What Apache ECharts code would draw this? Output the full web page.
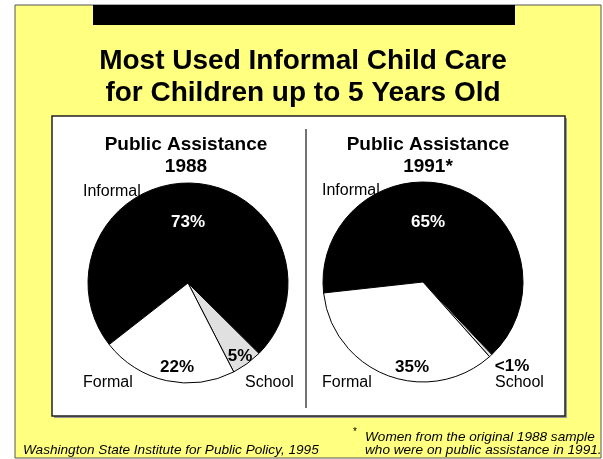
<!DOCTYPE html>
<html>
<head>
<meta charset="utf-8">
<style>
  html, body { margin: 0; padding: 0; background: #fff; }
  #chart { width: 603px; height: 459px; }
</style>
<script src="https://cdn.jsdelivr.net/npm/echarts@6/dist/echarts.min.js"></script>
</head>
<body>
<div id="chart"></div>
<script>
// data
const categories = ['Informal', 'School', 'Formal'];
const share1988 = [73, 5, 22];
const share1991 = [65, 0.5, 35];
const pctLabels1988 = ['73%', '5%', '22%'];
const pctLabels1991 = ['65%', '<1%', '35%'];
const sliceColors = ['#000000', '#e0e0e0', '#ffffff'];

const FONT = '"Liberation Sans", Arial, Helvetica, sans-serif';
const YELLOW = '#ffff80';

// where the labels sit on the slide (px)
const pctAnchors = {
  left: [[188, 222], [240, 356], [177, 367]],
  right: [[428, 222], [512, 366], [412, 367]]
};
const nameAnchors = {
  left: [[83, 192], [245, 383], [83, 383]],
  right: [[322, 191], [495, 383], [322, 383]]
};

function pieSeries(side, values, pcts, center, startAngle) {
  const base = {
    type: 'pie',
    center,
    radius: 100,
    startAngle,
    clockwise: true,
    silent: true,
    avoidLabelOverlap: false,
    emphasis: { disabled: true },
    labelLine: { show: false }
  };
  const slices = Object.assign({}, base, {
    z: 4,
    data: categories.map((c, i) => ({
      name: c,
      value: values[i],
      itemStyle: { color: sliceColors[i] },
      label: { color: i === 0 ? '#ffffff' : '#000000' }
    })),
    itemStyle: { borderColor: '#000', borderWidth: 1 },
    label: {
      show: true, position: 'inside', fontFamily: FONT, fontWeight: 'bold', fontSize: 17,
      formatter: p => pcts[p.dataIndex]
    },
    labelLayout: p => ({
      x: pctAnchors[side][p.dataIndex][0], y: pctAnchors[side][p.dataIndex][1],
      align: 'center', verticalAlign: 'middle'
    })
  });
  // invisible twin under the slices, carries the category names
  const names = Object.assign({}, base, {
    z: 3,
    data: categories.map((c, i) => ({ name: c, value: values[i] })),
    itemStyle: { color: 'rgba(0,0,0,0)', borderWidth: 0 },
    label: {
      show: true, position: 'inside', fontFamily: FONT, fontSize: 16, color: '#000',
      formatter: '{b}'
    },
    labelLayout: p => ({
      x: nameAnchors[side][p.dataIndex][0], y: nameAnchors[side][p.dataIndex][1],
      align: 'left', verticalAlign: 'middle'
    })
  });
  return [names, slices];
}

function txt(text, x, y, opts) {
  return {
    type: 'text', z: 1,
    style: Object.assign({
      text, x, y, fill: '#000', font: '15px ' + FONT,
      textAlign: 'left', textVerticalAlign: 'middle'
    }, opts || {})
  };
}

const chart = echarts.init(document.getElementById('chart'), null, { renderer: 'canvas' });

chart.setOption({
  animation: false,
  backgroundColor: '#ffffff',
  graphic: {
    elements: [
      { type: 'rect', z: 0, shape: { x: 15, y: 5, width: 586, height: 453 },
        style: { fill: YELLOW, stroke: '#555', lineWidth: 1 } },
      { type: 'rect', z: 0, shape: { x: 93, y: 5, width: 422, height: 20 }, style: { fill: '#000' } },
      { type: 'rect', z: 0, shape: { x: 54, y: 118, width: 513, height: 300 }, style: { fill: '#999' } },
      { type: 'rect', z: 0, shape: { x: 52, y: 116, width: 513, height: 300 },
        style: { fill: '#fff', stroke: '#222', lineWidth: 1.5 } },
      { type: 'line', z: 0, shape: { x1: 306, y1: 129, x2: 306, y2: 408 },
        style: { stroke: '#444', lineWidth: 1.5 } },
      txt('Most Used Informal Child Care\nfor Children up to 5 Years Old', 303, 77,
        { font: 'bold 28px ' + FONT, textAlign: 'center', lineHeight: 32 }),
      txt('Public Assistance\n1988', 186, 156,
        { font: 'bold 19px ' + FONT, textAlign: 'center', lineHeight: 22 }),
      txt('Public Assistance\n1991*', 428, 156,
        { font: 'bold 19px ' + FONT, textAlign: 'center', lineHeight: 22 }),
      txt('Washington State Institute for Public Policy, 1995', 23, 450,
        { font: 'italic 13.6px ' + FONT }),
      txt('*', 353, 432, { font: '10px ' + FONT }),
      txt('Women from the original 1988 sample', 365, 437, { font: 'italic 13.6px ' + FONT }),
      txt('who were on public assistance in 1991.', 365, 450, { font: 'italic 13.6px ' + FONT })
    ]
  },
  series: [
    ...pieSeries('left', share1988, pctLabels1988, [188, 283], 218),
    ...pieSeries('right', share1991, pctLabels1991, [423, 282], 186.3)
  ]
});
</script>
</body>
</html>
